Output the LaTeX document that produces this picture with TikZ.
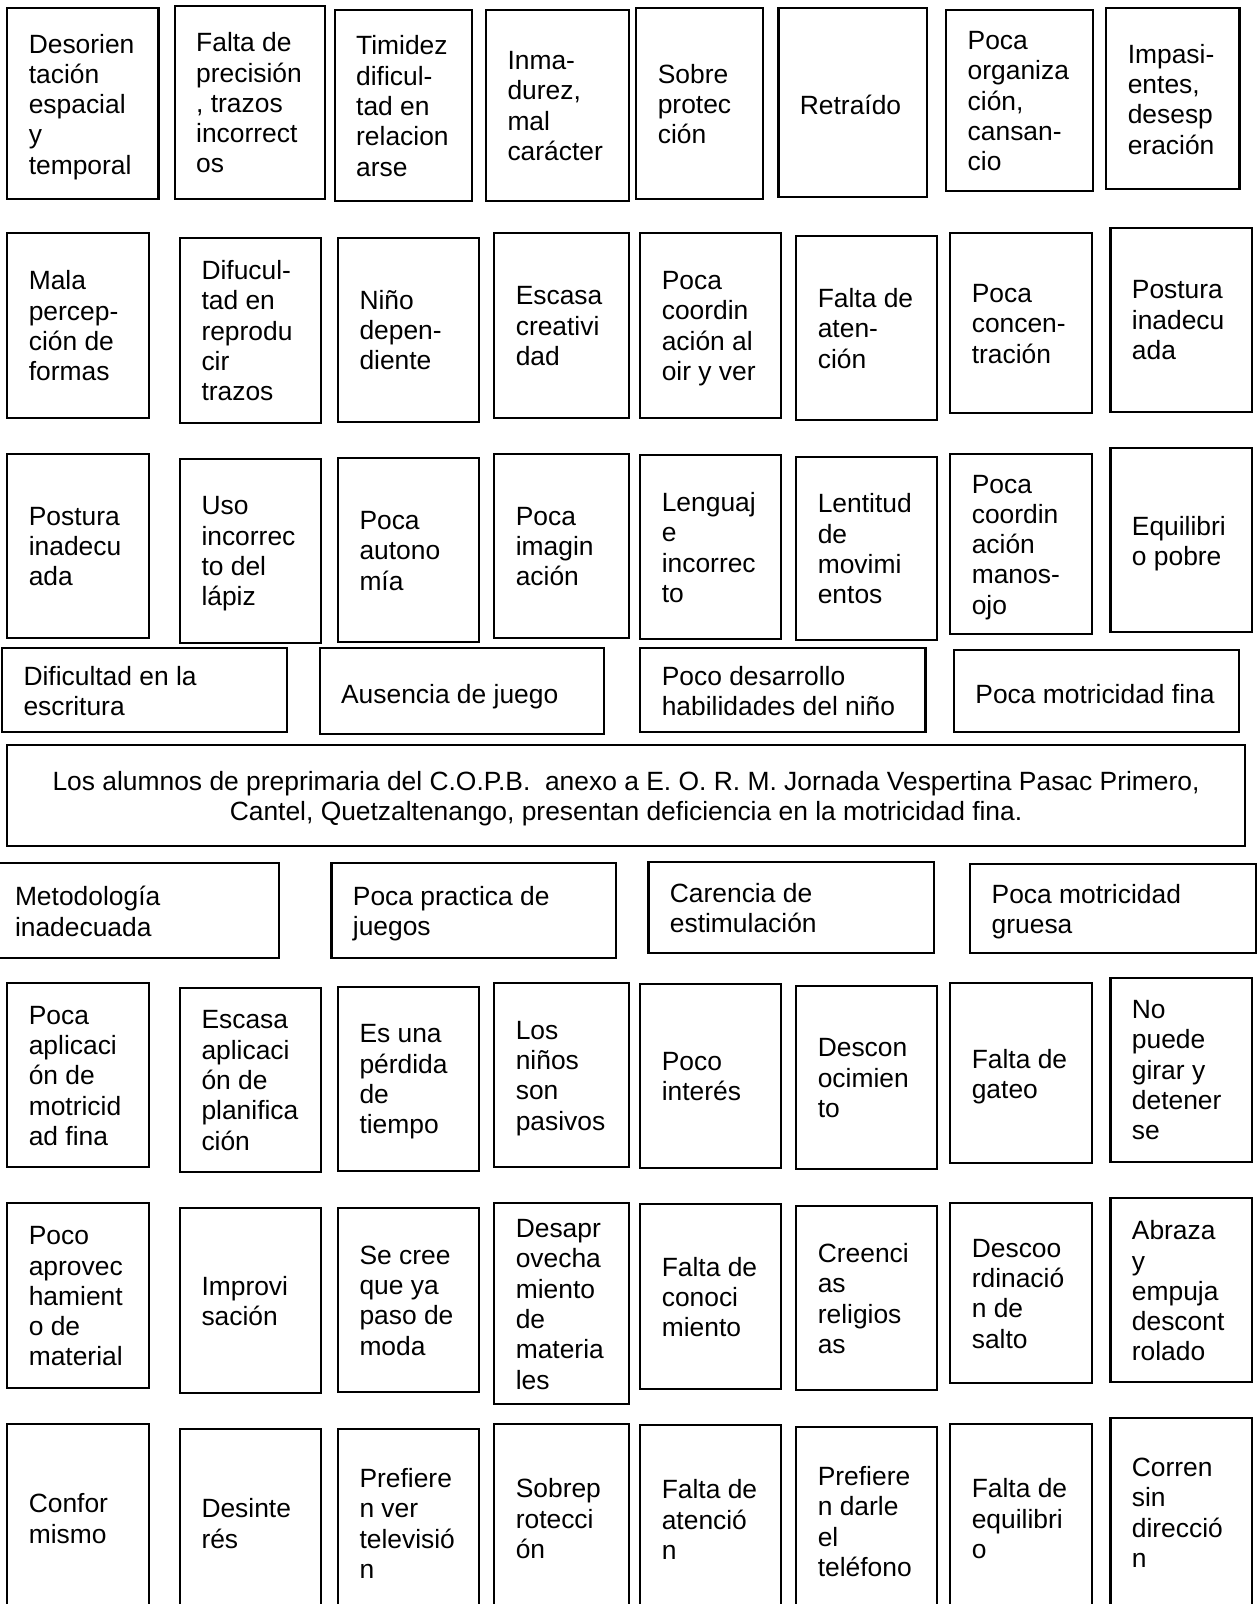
\documentclass[tikz,border=0pt]{standalone}
\usepackage{fontspec}
\setmainfont{Liberation Sans}
\newcommand\mystrut{\rule[-6.15pt]{0pt}{29.5pt}}
\tikzset{
  boxst/.style={draw=black, line width=2.2pt, rectangle, inner sep=0pt, outer sep=0pt},
  txt/.style={anchor=west, align=left, inner sep=0pt, outer sep=0pt,
    font=\fontsize{26.4}{30.3}\selectfont,
    execute at begin node=\mystrut, execute at end node=\mystrut},
  ctxt/.style={align=center, inner sep=0pt, outer sep=0pt,
    font=\fontsize{26.4}{30.3}\selectfont,
    execute at begin node=\mystrut, execute at end node=\mystrut}
}
\newcommand\bx[6]{%
  \node[boxst, minimum width={#4-#2}, minimum height={#5-#3}] (#1) at ({(#2+#4)/2},{(#3+#5)/2}) {};
  \node[txt] (#1t) at ([xshift=21.5pt,yshift=-3.5pt]#1.west) {#6};
}
\begin{document}\frenchspacing
\begin{tikzpicture}[x=1pt,y=-1pt]
\useasboundingbox (0,0) rectangle (1257,1604);
% Row B
\bx{b1}{7.3}{8.3}{158.4}{199}{Desorien\\tación\\espacial\\y\\temporal}
\bx{b2}{174.7}{5.7}{325.3}{199}{Falta de\\precisión\\, trazos\\incorrect\\os}
\bx{b3}{334.7}{10}{472.2}{201}{Timidez\\dificul-\\tad en\\relacion\\arse}
\bx{b4}{486}{10}{629}{201}{Inma-\\durez,\\mal\\carácter}
\bx{b5}{636.3}{8.3}{763}{199}{Sobre\\protec\\ción}
\bx{b6}{778.4}{8.3}{927.1}{196.7}{Retraído}
\bx{b7}{946.2}{10}{1093.3}{191}{Poca\\organiza\\ción,\\cansan-\\cio}
\bx{b8}{1106.3}{8.3}{1239.5}{189}{Impasi-\\entes,\\desesp\\eración}
% Row C
\bx{c1}{7.3}{233}{149}{417.7}{Mala\\percep-\\ción de\\formas}
\bx{c2}{180}{237.7}{320.8}{422.7}{Difucul-\\tad en\\reprodu\\cir\\trazos}
\bx{c3}{338}{237.7}{478.8}{421.7}{Niño\\depen-\\diente}
\bx{c4}{494.3}{233.3}{629}{417.7}{Escasa\\creativi\\dad}
\bx{c5}{640.3}{233.3}{781.3}{417.7}{Poca\\coordin\\ación al\\oir y ver}
\bx{c6}{796.3}{235.7}{937.3}{420}{Falta de\\aten-\\ción}
\bx{c7}{950.3}{233.3}{1091.7}{413.3}{Poca\\concen-\\tración}
\bx{c8}{1110.4}{227.7}{1251.7}{411.7}{Postura\\inadecu\\ada}
% Row D
\bx{d1}{7.3}{454}{149}{638.3}{Postura\\inadecu\\ada}
\bx{d2}{180}{459}{320.8}{642.7}{Uso\\incorrec\\to del\\lápiz}
\bx{d3}{338}{458.3}{478.8}{642.3}{Poca\\autono\\mía}
\bx{d4}{494.3}{454}{629}{638.3}{Poca\\imagin\\ación}
\bx{d5}{640.3}{455}{781.3}{639}{Lenguaj\\e\\incorrec\\to}
\bx{d6}{796.3}{456.7}{937.3}{640}{Lentitud\\de\\movimi\\entos}
\bx{d7}{950.3}{454}{1091.7}{634.3}{Poca\\coordin\\ación\\manos-\\ojo}
\bx{d8}{1110.4}{448.3}{1251.7}{632.3}{Equilibri\\o pobre}
% Row E
\bx{e1}{2}{648.3}{287}{732.3}{Dificultad en la\\escritura}
\bx{e2}{319.6}{648.3}{604}{734}{Ausencia de juego}
\bx{e3}{640.3}{648.3}{925.5}{732.3}{Poco desarrollo\\habilidades del niño}
\bx{e4}{953.9}{650}{1238.7}{732.3}{Poca motricidad fina}
% Main problem
\node[boxst, minimum width={1244.8-7.3}, minimum height={846-745}] (m) at ({(7.3+1244.8)/2},{(745+846)/2}) {};
\node[ctxt] (mt) at ([yshift=-3.5pt]m.center) {Los alumnos de preprimaria del C.O.P.B.\ \ anexo a E. O. R. M. Jornada Vespertina Pasac Primero,\\Cantel, Quetzaltenango, presentan deficiencia en la motricidad fina.};
% Row F
\bx{f1}{-6.5}{863.3}{278.8}{958.3}{Metodología\\inadecuada}
\bx{f2}{331.4}{863.3}{616.3}{958.3}{Poca practica de\\juegos}
\bx{f3}{648.4}{862.3}{934}{952.7}{Carencia de\\estimulación}
\bx{f4}{970.2}{864}{1255.6}{952.7}{Poca motricidad\\gruesa}
% Row G
\bx{g1}{7.3}{983.3}{149}{1167.3}{Poca\\aplicaci\\ón de\\motricid\\ad fina}
\bx{g2}{180}{987.7}{320.8}{1172.3}{Escasa\\aplicaci\\ón de\\planifica\\ción}
\bx{g3}{338}{986.7}{478.8}{1171}{Es una\\pérdida\\de\\tiempo}
\bx{g4}{494.3}{983.3}{629}{1167.3}{Los\\niños\\son\\pasivos}
\bx{g5}{640.3}{984}{781.3}{1167.7}{Poco\\interés}
\bx{g6}{796.3}{985.7}{937.3}{1169.3}{Descon\\ocimien\\to}
\bx{g7}{950.3}{983.3}{1091.7}{1163.3}{Falta de\\gateo}
\bx{g8}{1110.4}{977.7}{1251.7}{1161.7}{No\\puede\\girar y\\detener\\se}
% Row H
\bx{h1}{7.3}{1203.3}{149}{1388.3}{Poco\\aprovec\\hamient\\o de\\material}
\bx{h2}{180}{1208.3}{320.8}{1392.7}{Improvi\\sación}
\bx{h3}{338}{1207.7}{478.8}{1392.3}{Se cree\\que ya\\paso de\\moda}
\bx{h4}{494.3}{1203.3}{629}{1404.3}{Desapr\\ovecha\\miento\\de\\materia\\les}
\bx{h5}{640.3}{1204}{781.3}{1389}{Falta de\\conoci\\miento}
\bx{h6}{796.3}{1205.7}{937.3}{1390}{Creenci\\as\\religios\\as}
\bx{h7}{950.3}{1203.3}{1091.7}{1383.3}{Descoo\\rdinació\\n de\\salto}
\bx{h8}{1110.4}{1198.3}{1251.7}{1382.3}{Abraza\\y\\empuja\\descont\\rolado}
% Row I
\bx{i1}{7.3}{1424.3}{149}{1612}{Confor\\mismo}
\bx{i2}{180}{1429}{320.8}{1617}{Desinte\\rés}
\bx{i3}{338}{1429}{478.8}{1617}{Prefiere\\n ver\\televisió\\n}
\bx{i4}{494.3}{1424.3}{629}{1612}{Sobrep\\rotecci\\ón}
\bx{i5}{640.3}{1425}{781.3}{1613}{Falta de\\atenció\\n}
\bx{i6}{796.3}{1426.7}{937.3}{1615}{Prefiere\\n darle\\el\\teléfono}
\bx{i7}{950.3}{1424.3}{1091.7}{1612}{Falta de\\equilibri\\o}
\bx{i8}{1110.4}{1418.3}{1251.7}{1606.5}{Corren\\sin\\direcció\\n}
\end{tikzpicture}
\end{document}
